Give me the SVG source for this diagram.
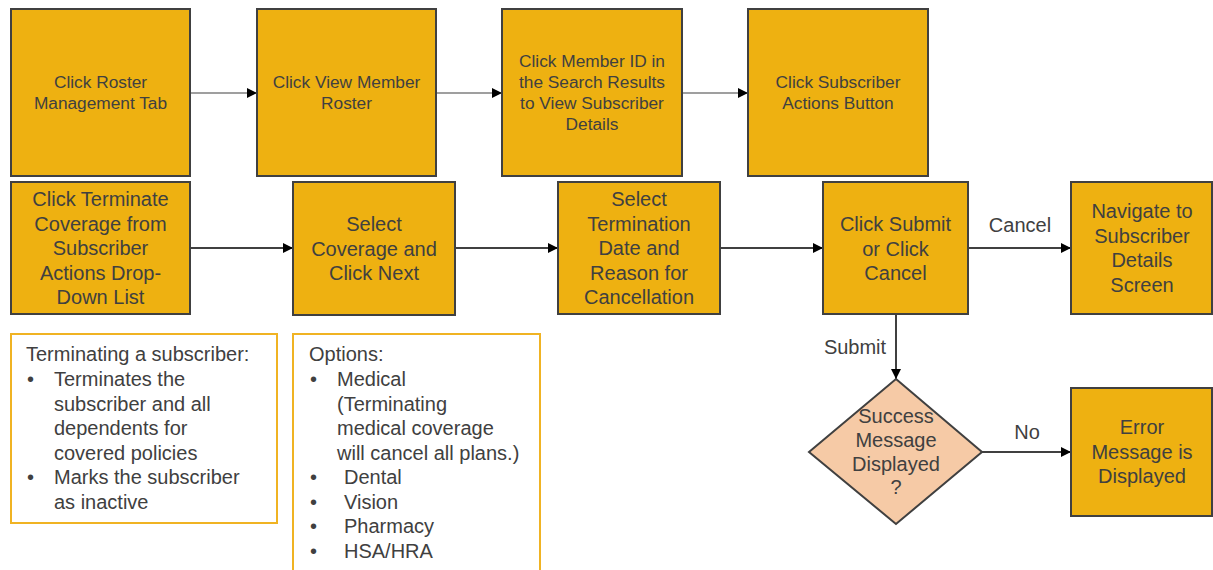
<svg xmlns="http://www.w3.org/2000/svg" width="1213" height="570" viewBox="0 0 1213 570">
<defs>
<marker id="ah" viewBox="0 0 10 10" refX="10" refY="5" markerWidth="10" markerHeight="10" markerUnits="userSpaceOnUse" orient="auto">
<path d="M0,0 L10,5 L0,10 z" fill="#000"/>
</marker>
<style>
.box{fill:#EEB111;stroke:#404040;stroke-width:2}
.dia{fill:#F6CAA6;stroke:#404040;stroke-width:2}
.note{fill:#fff;stroke:#F0B323;stroke-width:2}
.t1{font-family:"Liberation Sans",Arial,sans-serif;font-size:17.3px;fill:#404040;text-anchor:middle}
.t2{font-family:"Liberation Sans",Arial,sans-serif;font-size:20px;fill:#404040;text-anchor:middle}
.lbl{font-family:"Liberation Sans",Arial,sans-serif;font-size:20px;fill:#404040;text-anchor:middle}
.nt{font-family:"Liberation Sans",Arial,sans-serif;font-size:20px;fill:#404040}
.c1{stroke:#7F7F7F;stroke-width:1.5;fill:none;marker-end:url(#ah)}
.c2{stroke:#000;stroke-width:1.5;fill:none;marker-end:url(#ah)}
</style>
</defs>
<rect width="1213" height="570" fill="#fff"/>
<g id="connectors">
<line class="c1" x1="190" y1="93" x2="257" y2="93"/>
<line class="c1" x1="436" y1="93" x2="502" y2="93"/>
<line class="c1" x1="682" y1="93" x2="748" y2="93"/>
<line class="c2" x1="190" y1="248" x2="293" y2="248"/>
<line class="c2" x1="455" y1="248" x2="558" y2="248"/>
<line class="c2" x1="720" y1="248" x2="823" y2="248"/>
<line class="c2" x1="968" y1="248" x2="1071" y2="248"/>
<line class="c2" x1="896" y1="315" x2="896" y2="379"/>
<line class="c2" x1="982" y1="452" x2="1071" y2="452"/>
<text class="lbl" x="1020" y="232">Cancel</text>
<text class="lbl" x="855" y="354">Submit</text>
<text class="lbl" x="1027" y="439">No</text>
</g>
<g id="n1"><rect class="box" x="11" y="9" width="179" height="167"/>
<text class="t1" x="100.5" y="88">Click Roster</text><text class="t1" x="100.5" y="109">Management Tab</text></g>
<g id="n2"><rect class="box" x="257" y="9" width="179" height="167"/>
<text class="t1" x="346.5" y="88">Click View Member</text><text class="t1" x="346.5" y="109">Roster</text></g>
<g id="n3"><rect class="box" x="502" y="9" width="180" height="167"/>
<text class="t1" x="592" y="67">Click Member ID in</text><text class="t1" x="592" y="88">the Search Results</text><text class="t1" x="592" y="109">to View Subscriber</text><text class="t1" x="592" y="130">Details</text></g>
<g id="n4"><rect class="box" x="748" y="9" width="180" height="167"/>
<text class="t1" x="838" y="88">Click Subscriber</text><text class="t1" x="838" y="109">Actions Button</text></g>
<g id="n5"><rect class="box" x="11" y="182" width="179" height="132"/>
<text class="t2" x="100.5" y="206">Click Terminate</text><text class="t2" x="100.5" y="231">Coverage from</text><text class="t2" x="100.5" y="255">Subscriber</text><text class="t2" x="100.5" y="280">Actions Drop-</text><text class="t2" x="100.5" y="304">Down List</text></g>
<g id="n6"><rect class="box" x="293" y="182" width="162" height="133"/>
<text class="t2" x="374" y="231">Select</text><text class="t2" x="374" y="256">Coverage and</text><text class="t2" x="374" y="280">Click Next</text></g>
<g id="n7"><rect class="box" x="558" y="182" width="162" height="132"/>
<text class="t2" x="639" y="206">Select</text><text class="t2" x="639" y="231">Termination</text><text class="t2" x="639" y="255">Date and</text><text class="t2" x="639" y="280">Reason for</text><text class="t2" x="639" y="304">Cancellation</text></g>
<g id="n8"><rect class="box" x="823" y="182" width="145" height="132"/>
<text class="t2" x="895.5" y="231">Click Submit</text><text class="t2" x="895.5" y="256">or Click</text><text class="t2" x="895.5" y="280">Cancel</text></g>
<g id="n9"><rect class="box" x="1071" y="182" width="141" height="132"/>
<text class="t2" x="1142" y="218">Navigate to</text><text class="t2" x="1142" y="243">Subscriber</text><text class="t2" x="1142" y="267">Details</text><text class="t2" x="1142" y="292">Screen</text></g>
<g id="n10"><polygon class="dia" points="896,379 982,452 896,524 809,452"/>
<text class="t2" x="896" y="423">Success</text><text class="t2" x="896" y="447">Message</text><text class="t2" x="896" y="471">Displayed</text><text class="t2" x="896" y="494">?</text></g>
<g id="n11"><rect class="box" x="1071" y="388" width="141" height="128"/>
<text class="t2" x="1142" y="434">Error</text><text class="t2" x="1142" y="459">Message is</text><text class="t2" x="1142" y="483">Displayed</text></g>
<g id="note1"><rect class="note" x="11" y="334" width="266" height="189"/>
<text class="nt" x="26" y="361">Terminating a subscriber:</text>
<text class="nt" x="27" y="386">•</text><text class="nt" x="54" y="386">Terminates the</text>
<text class="nt" x="54" y="411">subscriber and all</text>
<text class="nt" x="54" y="435">dependents for</text>
<text class="nt" x="54" y="460">covered policies</text>
<text class="nt" x="27" y="484">•</text><text class="nt" x="54" y="484">Marks the subscriber</text>
<text class="nt" x="54" y="509">as inactive</text></g>
<g id="note2"><path class="note" d="M293,571 L293,334 L540,334 L540,571"/>
<text class="nt" x="309" y="361">Options:</text>
<text class="nt" x="310" y="386">•</text><text class="nt" x="337" y="386">Medical</text>
<text class="nt" x="337" y="411">(Terminating</text>
<text class="nt" x="337" y="435">medical coverage</text>
<text class="nt" x="337" y="460">will cancel all plans.)</text>
<text class="nt" x="310" y="484">•</text><text class="nt" x="344" y="484">Dental</text>
<text class="nt" x="310" y="509">•</text><text class="nt" x="344" y="509">Vision</text>
<text class="nt" x="310" y="533">•</text><text class="nt" x="344" y="533">Pharmacy</text>
<text class="nt" x="310" y="558">•</text><text class="nt" x="344" y="558">HSA/HRA</text></g>
</svg>
